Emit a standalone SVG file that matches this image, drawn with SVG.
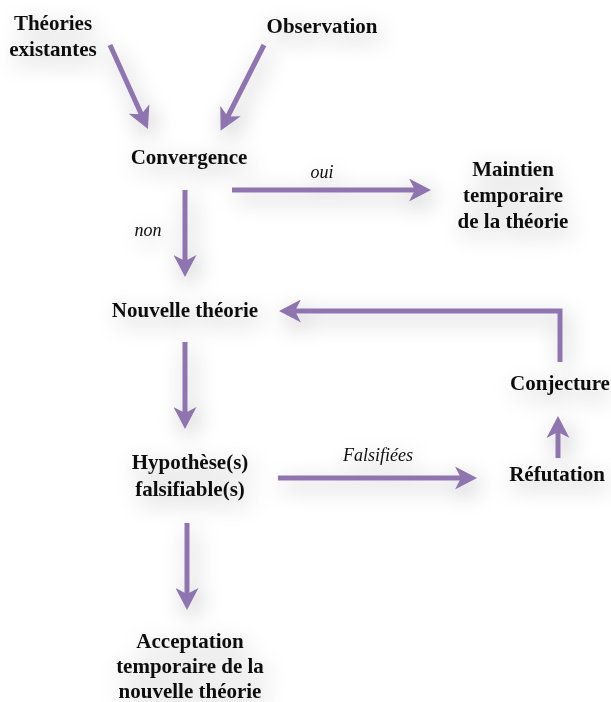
<svg xmlns="http://www.w3.org/2000/svg" width="611" height="702" viewBox="0 0 611 702">
  <style>
    .lbl { font-family: "Liberation Serif", "Times New Roman", serif; font-weight: bold; font-size: 21px; fill: #111; text-anchor: middle; }
    .cond { font-family: "Liberation Serif", "Times New Roman", serif; font-style: italic; font-size: 18px; fill: #111; text-anchor: middle; }
    .flow { fill: none; stroke: #8f74b0; stroke-width: 5; marker-end: url(#head); }
  </style>
  <defs>
    <marker id="head" markerUnits="userSpaceOnUse" viewBox="0 0 22 23" markerWidth="22" markerHeight="23" refX="10" refY="11.5" orient="auto">
      <path d="M0,0 L22,11.5 L0,23 L6,11.5 Z" fill="#8f74b0"/>
    </marker>
    <filter id="haze" x="-20%" y="-20%" width="140%" height="140%">
      <feGaussianBlur in="SourceAlpha" stdDeviation="11" result="b"/>
      <feOffset in="b" dx="4" dy="7" result="o"/>
      <feFlood flood-color="#000" flood-opacity="0.3"/>
      <feComposite in2="o" operator="in" result="s"/>
      <feMerge>
        <feMergeNode in="s"/>
        <feMergeNode in="SourceGraphic"/>
      </feMerge>
    </filter>
  </defs>
  <rect width="611" height="702" fill="#fff"/>
  <g filter="url(#haze)">
    <g id="connectors">
      <path class="flow" d="M110,45 L143,118"/>
      <path class="flow" d="M264,45 L226,120"/>
      <path class="flow" d="M232,190 H419"/>
      <path class="flow" d="M185,190 V265"/>
      <path class="flow" d="M560,362 V311 H291"/>
      <path class="flow" d="M185,342 V417"/>
      <path class="flow" d="M278,478 H465"/>
      <path class="flow" d="M558,458 V428"/>
      <path class="flow" d="M187,523 V598"/>
      <text class="cond" x="322" y="178">oui</text>
      <text class="cond" x="148" y="236">non</text>
      <text class="cond" x="378" y="461">Falsifiées</text>
    </g>
    <g id="theories"><text class="lbl" x="53" y="30">Théories</text><text class="lbl" x="53" y="56">existantes</text></g>
    <g id="observation"><text class="lbl" x="322" y="33">Observation</text></g>
    <g id="convergence"><text class="lbl" x="189" y="164">Convergence</text></g>
    <g id="maintien"><text class="lbl" x="513" y="176">Maintien</text><text class="lbl" x="513" y="202">temporaire</text><text class="lbl" x="513" y="228">de la théorie</text></g>
    <g id="nouvelle"><text class="lbl" x="185" y="317">Nouvelle théorie</text></g>
    <g id="conjecture"><text class="lbl" x="560" y="390">Conjecture</text></g>
    <g id="hypothese"><text class="lbl" x="190" y="469">Hypothèse(s)</text><text class="lbl" x="190" y="496">falsifiable(s)</text></g>
    <g id="refutation"><text class="lbl" x="557" y="481">Réfutation</text></g>
    <g id="acceptation"><text class="lbl" x="190" y="648">Acceptation</text><text class="lbl" x="190" y="673">temporaire de la</text><text class="lbl" x="190" y="698">nouvelle théorie</text></g>
  </g>
</svg>
